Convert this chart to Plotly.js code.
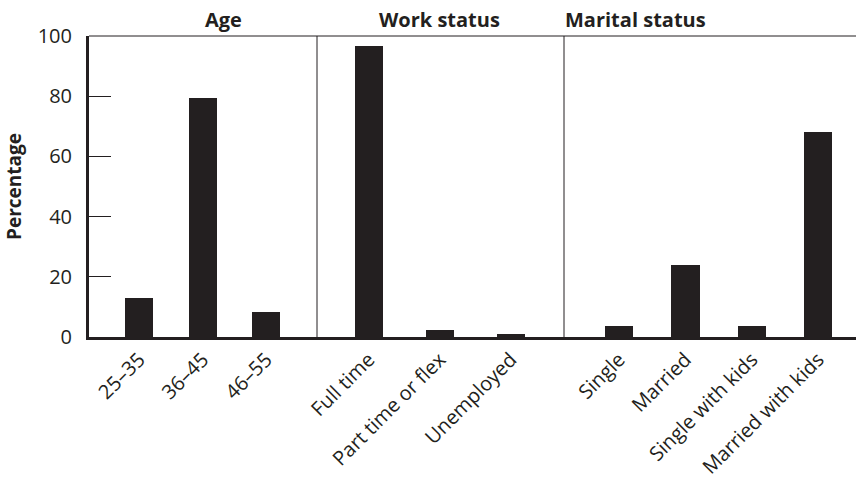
<!DOCTYPE html>
<html>
<head>
<meta charset="utf-8">
<script src="https://cdn.plot.ly/plotly-3.0.1.min.js"></script>
<style>html,body{margin:0;padding:0;background:#fff;}#chart{width:856px;height:480px;}</style>
</head>
<body>
<div id="chart"></div>
<script>
// Data
const ageCats = ['25–35', '36–45', '46–55'];
const ageVals = [13, 79.3, 8.2];
const workCats = ['Full time', 'Part time or flex', 'Unemployed'];
const workVals = [96.8, 2.3, 1.0];
const maritalCats = ['Single', 'Married', 'Single with kids', 'Married with kids'];
const maritalVals = [3.7, 23.9, 3.7, 68.2];
const panelTitles = ['Age', 'Work status', 'Marital status'];
const yTicks = [0, 20, 40, 60, 80, 100];

const ink = '#231f20';
const fontFam = '"Open Sans", "Noto Sans", sans-serif';

const mkBar = (x, y, xa, w) => ({
  type: 'bar', x: x, y: y, xaxis: xa, yaxis: 'y',
  width: w, marker: {color: ink, line: {width: 0}},
  hoverinfo: 'skip', showlegend: false
});

const traces = [
  mkBar(ageCats, ageVals, 'x', 0.44),
  mkBar(workCats, workVals, 'x2', 0.4),
  mkBar(maritalCats, maritalVals, 'x3', 0.43)
];

const d1 = (317 - 89) / 767, d2 = (564 - 89) / 767;

const xBase = {
  type: 'category', showgrid: false, zeroline: false,
  showline: true, linewidth: 3, linecolor: ink,
  ticks: '', tickangle: -45,
  tickfont: {family: fontFam, size: 20, color: ink},
  anchor: 'y', fixedrange: true
};

const titleFont = {family: fontFam, size: 20, color: ink};

const layout = {
  width: 856, height: 480,
  margin: {l: 89, r: 0, t: 36, b: 143},
  paper_bgcolor: '#fff', plot_bgcolor: '#fff',
  bargap: 0,
  font: {family: fontFam, color: ink},
  xaxis: Object.assign({}, xBase, {domain: [0, d1], range: [-0.79, 2.8]}),
  xaxis2: Object.assign({}, xBase, {domain: [d1, d2], range: [-0.73, 2.75]}),
  xaxis3: Object.assign({}, xBase, {domain: [d2, 1], range: [-0.83, 3.57]}),
  yaxis: {
    range: [0, 100], tickvals: yTicks, ticktext: yTicks.map(String),
    showgrid: false, zeroline: false,
    showline: true, linewidth: 3, linecolor: ink,
    ticks: 'inside', ticklen: 22, tickwidth: 1, tickcolor: ink,
    tickfont: {family: fontFam, size: 20, color: ink},
    ticklabelstandoff: 10,
    title: {text: '<b>Percentage</b>', font: {family: fontFam, size: 19, color: ink}, standoff: 12},
    fixedrange: true
  },
  shapes: [
    {type: 'line', xref: 'paper', yref: 'paper', x0: 0, x1: 1, y0: 1, y1: 1, line: {color: ink, width: 1}},
    {type: 'line', xref: 'paper', yref: 'paper', x0: d1, x1: d1, y0: 0, y1: 1, line: {color: ink, width: 1}},
    {type: 'line', xref: 'paper', yref: 'paper', x0: d2, x1: d2, y0: 0, y1: 1, line: {color: ink, width: 1}}
  ],
  annotations: [
    {text: '<b>' + panelTitles[0] + '</b>', xref: 'paper', yref: 'paper', x: (203 - 89) / 767, y: 1, yanchor: 'bottom', yshift: 1, showarrow: false, font: titleFont},
    {text: '<b>' + panelTitles[1] + '</b>', xref: 'paper', yref: 'paper', x: (439 - 89) / 767, y: 1, yanchor: 'bottom', yshift: 1, showarrow: false, font: titleFont},
    {text: '<b>' + panelTitles[2] + '</b>', xref: 'paper', yref: 'paper', x: (708 - 89) / 767, y: 1, yanchor: 'bottom', yshift: 1, showarrow: false, font: titleFont}
  ]
};

Plotly.newPlot('chart', traces, layout, {displayModeBar: false, staticPlot: true});
</script>
</body>
</html>
